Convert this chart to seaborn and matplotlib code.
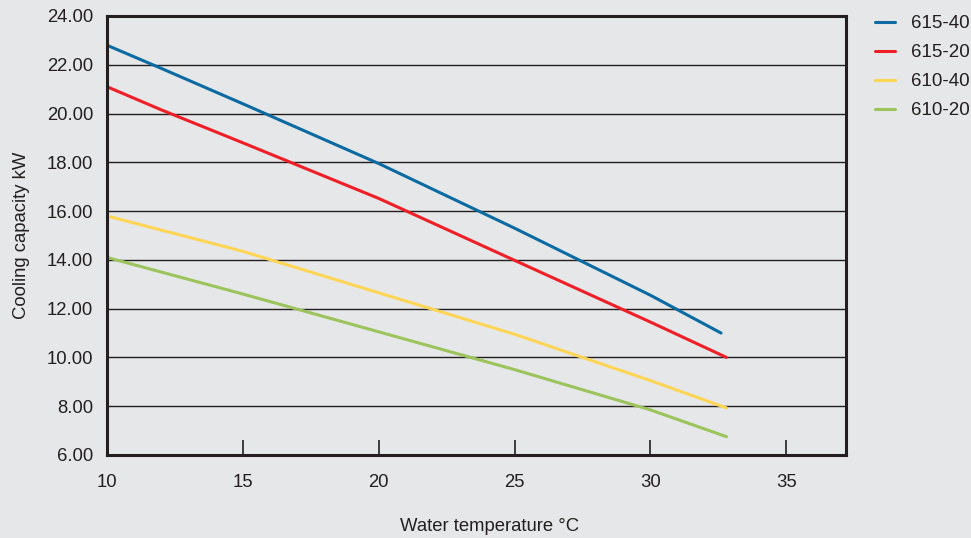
import numpy as np
import pandas as pd
import matplotlib
matplotlib.use("Agg")
import matplotlib.pyplot as plt
import seaborn as sns

# === Data ===
series_names = ["615-40", "615-20", "610-40", "610-20"]

temps_615_40 = [10, 12, 15, 20, 25, 30, 32.6]
cap_615_40 = [22.8, 21.85, 20.4, 17.95, 15.3, 12.55, 11.0]

temps_615_20 = [10, 12, 15, 20, 25, 30, 32.8]
cap_615_20 = [21.1, 20.15, 18.8, 16.52, 13.98, 11.45, 10.0]

temps_610_40 = [10, 15, 20, 25, 30, 32.8]
cap_610_40 = [15.8, 14.35, 12.65, 10.95, 9.05, 7.93]

temps_610_20 = [10, 15, 20, 25, 30, 32.8]
cap_610_20 = [14.1, 12.6, 11.05, 9.5, 7.85, 6.75]

x_ticks = [10, 15, 20, 25, 30, 35]
y_ticks = [6, 8, 10, 12, 14, 16, 18, 20, 22, 24]

colors = ["#0b6aa2", "#ee1f26", "#ffd555", "#9cc35c"]

# === Long-form table ===
frames = []
for name, t, c in zip(series_names,
                      [temps_615_40, temps_615_20, temps_610_40, temps_610_20],
                      [cap_615_40, cap_615_20, cap_610_40, cap_610_20]):
    frames.append(pd.DataFrame({"temp": t, "cap": c, "model": name}))
df = pd.concat(frames, ignore_index=True)

# === Plot ===
bg = "#e6e7e8"
ink = "#231f20"
sns.set_style("white")
plt.rcParams["font.family"] = ["Liberation Sans", "DejaVu Sans"]

fig = plt.figure(figsize=(9.71, 5.38), dpi=100, facecolor=bg)
ax = fig.add_axes([0.1102, 0.1543, 0.7611, 0.816])
ax.set_facecolor(bg)

sns.lineplot(data=df, x="temp", y="cap", hue="model", hue_order=series_names,
             palette=colors, linewidth=2.2, ax=ax, legend=False, zorder=3)

ax.set_xlim(10, 37.2)
ax.set_ylim(6, 24)
ax.set_xticks(x_ticks)
ax.set_yticks(y_ticks)
ax.set_yticklabels([f"{v:.2f}" for v in y_ticks])

for v in y_ticks[1:-1]:
    ax.axhline(v, color=ink, linewidth=1.0, zorder=2)

for s in ax.spines.values():
    s.set_color(ink)
    s.set_linewidth(2.2)
    s.set_zorder(4)

ax.tick_params(axis="x", bottom=True, direction="in", length=11, width=1.2,
               color=ink, pad=14, labelsize=13.3, labelcolor=ink)
ax.tick_params(axis="y", left=False, length=0, pad=10, labelsize=13.3, labelcolor=ink)

ax.set_xlabel("Water temperature °C", fontsize=13.3, color=ink, labelpad=19, x=0.518)
ax.set_ylabel("Cooling capacity kW", fontsize=13.3, color=ink, labelpad=12)

handles = [plt.Line2D([], [], color=c, linewidth=2.2) for c in colors]
fig.legend(handles, series_names, loc="upper left", bbox_to_anchor=(0.888, 0.996),
           frameon=False, fontsize=13.5, handlelength=1.07, handletextpad=0.85,
           labelspacing=0.63, labelcolor=ink, borderaxespad=0.3)

fig.savefig("out.png", dpi=100, facecolor=bg)
